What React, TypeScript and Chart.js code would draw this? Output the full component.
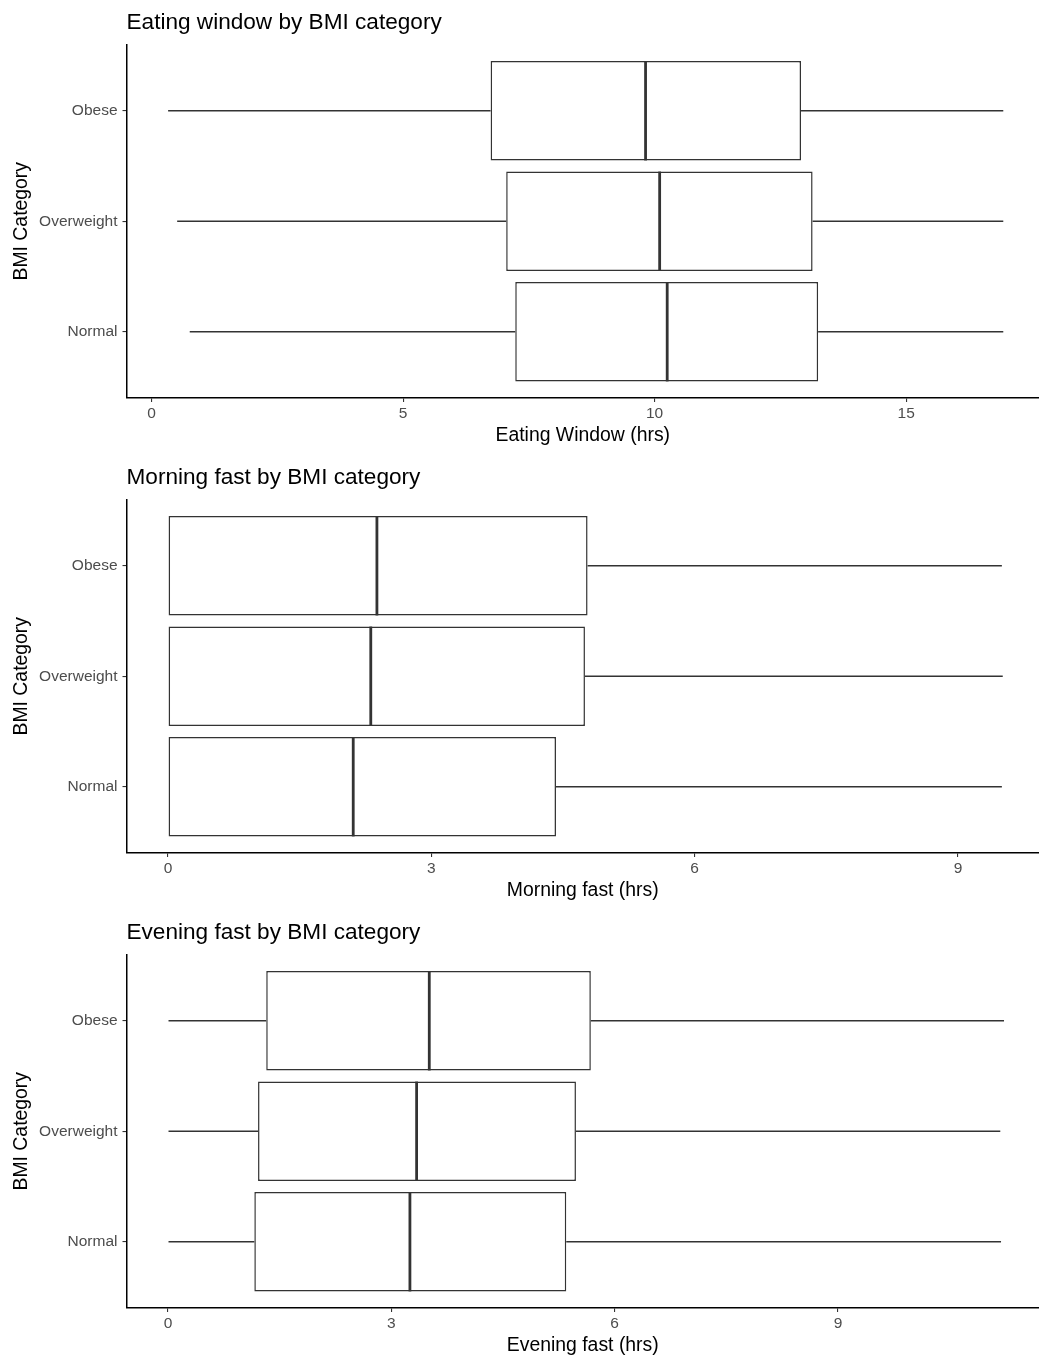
import React, { useEffect, useRef } from "react";
import { Chart, registerables } from "chart.js";

Chart.register(...registerables);

// ---------- data ----------
const categories = ["Obese", "Overweight", "Normal"];

// Eating window (hrs)
const eatLow = [0.33, 0.51, 0.76];
const eatQ1 = [6.74, 7.05, 7.23];
const eatMedian = [9.82, 10.1, 10.25];
const eatQ3 = [12.91, 13.14, 13.25];
const eatHigh = [16.93, 16.93, 16.93];
const eatTicks = [0, 5, 10, 15];

// Morning fast (hrs)
const mornLow = [0, 0, 0];
const mornQ1 = [0, 0, 0];
const mornMedian = [2.38, 2.31, 2.11];
const mornQ3 = [4.78, 4.75, 4.42];
const mornHigh = [9.5, 9.51, 9.5];
const mornTicks = [0, 3, 6, 9];

// Evening fast (hrs)
const eveLow = [0, 0, 0];
const eveQ1 = [1.32, 1.21, 1.16];
const eveMedian = [3.51, 3.34, 3.25];
const eveQ3 = [5.68, 5.48, 5.35];
const eveHigh = [11.23, 11.18, 11.19];
const eveTicks = [0, 3, 6, 9];

const titles = [
  "Eating window by BMI category",
  "Morning fast by BMI category",
  "Evening fast by BMI category",
];
const xTitles = ["Eating Window (hrs)", "Morning fast (hrs)", "Evening fast (hrs)"];
const yTitle = "BMI Category";

// ---------- panel configuration ----------
const FONT = '"Liberation Sans", Arial, Helvetica, sans-serif';
const W = 1039;
const H = 453;
const panelTops = [0, 455, 910];

type PanelCfg = {
  title: string;
  xTitle: string;
  low: number[];
  q1: number[];
  median: number[];
  q3: number[];
  high: number[];
  ticks: number[];
  xMin: number;
  xMax: number;
};

const panels: PanelCfg[] = [
  { title: titles[0], xTitle: xTitles[0], low: eatLow, q1: eatQ1, median: eatMedian, q3: eatQ3, high: eatHigh, ticks: eatTicks, xMin: -0.497, xMax: 17.64 },
  { title: titles[1], xTitle: xTitles[1], low: mornLow, q1: mornQ1, median: mornMedian, q3: mornQ3, high: mornHigh, ticks: mornTicks, xMin: -0.473, xMax: 9.923 },
  { title: titles[2], xTitle: xTitles[2], low: eveLow, q1: eveQ1, median: eveMedian, q3: eveQ3, high: eveHigh, ticks: eveTicks, xMin: -0.557, xMax: 11.7 },
];

function BoxPanel({ cfg, top }: { cfg: PanelCfg; top: number }) {
  const ref = useRef<HTMLCanvasElement>(null);

  useEffect(() => {
    const canvas = ref.current;
    if (!canvas) return;
    const idx = categories.map((_, i) => i);
    const boxData = idx.map((i) => ({ x: [cfg.q1[i], cfg.q3[i]], y: i }));
    const lowData = idx.map((i) => ({ x: [cfg.low[i], cfg.q1[i]], y: i }));
    const highData = idx.map((i) => ({ x: [cfg.q3[i], cfg.high[i]], y: i }));

    const medianPlugin = {
      id: "medianLines",
      afterDatasetsDraw(chart: any) {
        const meta = chart.getDatasetMeta(0);
        const xs = chart.scales.x;
        const ctx = chart.ctx;
        ctx.save();
        ctx.strokeStyle = "#333333";
        ctx.lineWidth = 2.8;
        meta.data.forEach((el: any, i: number) => {
          const { y, height } = el.getProps(["y", "height"], true);
          const px = xs.getPixelForValue(cfg.median[i]);
          ctx.beginPath();
          ctx.moveTo(px, y - height / 2);
          ctx.lineTo(px, y + height / 2);
          ctx.stroke();
        });
        ctx.restore();
      },
    };

    const titlePlugin = {
      id: "panelTitle",
      afterDraw(chart: any) {
        const ctx = chart.ctx;
        ctx.save();
        ctx.font = `22.6px ${FONT}`;
        ctx.fillStyle = "#000000";
        ctx.textAlign = "left";
        ctx.textBaseline = "alphabetic";
        ctx.fillText(cfg.title, chart.chartArea.left, 28.8);
        ctx.restore();
      },
    };

    const chart = new Chart(canvas, {
      type: "bar",
      data: {
        datasets: [
          {
            data: boxData as any,
            backgroundColor: "#ffffff",
            borderColor: "#333333",
            borderWidth: 1.5,
            borderSkipped: false,
            barPercentage: 0.9,
            categoryPercentage: 1,
            grouped: false,
          } as any,
          {
            data: lowData as any,
            backgroundColor: "#333333",
            borderWidth: 0,
            maxBarThickness: 1.4,
            grouped: false,
          } as any,
          {
            data: highData as any,
            backgroundColor: "#333333",
            borderWidth: 0,
            maxBarThickness: 1.4,
            grouped: false,
          } as any,
        ],
      },
      options: {
        indexAxis: "y",
        responsive: false,
        animation: false,
        events: [],
        layout: { padding: { top: 44.5, left: 0, right: 0, bottom: 0 } },
        plugins: {
          legend: { display: false },
          tooltip: { enabled: false },
          title: { display: false },
        },
        scales: {
          x: {
            type: "linear",
            min: cfg.xMin,
            max: cfg.xMax,
            offset: false,
            afterBuildTicks: (ax: any) => {
              ax.ticks = cfg.ticks.map((v) => ({ value: v }));
            },
            afterFit: (ax: any) => {
              ax.height = H - 398;
            },
            grid: {
              display: true,
              offset: false,
              drawOnChartArea: false,
              drawTicks: true,
              tickLength: 4,
              color: "#333333",
              lineWidth: 1.1,
            },
            border: { display: true, color: "#000000", width: 1.5 },
            ticks: {
              color: "#4d4d4d",
              font: { size: 15.5, family: FONT },
              padding: 2,
              maxRotation: 0,
              autoSkip: false,
              callback: (v: any) => String(v),
            },
            title: {
              display: true,
              text: cfg.xTitle,
              color: "#000000",
              font: { size: 19.4, family: FONT },
              padding: { top: 0, bottom: 5.4 },
            },
          },
          y: {
            type: "linear",
            reverse: true,
            min: -0.6,
            max: 2.6,
            offset: false,
            afterBuildTicks: (ax: any) => {
              ax.ticks = categories.map((_, i) => ({ value: i }));
            },
            afterFit: (ax: any) => {
              ax.width = 126.5;
            },
            grid: {
              display: true,
              offset: false,
              drawOnChartArea: false,
              drawTicks: true,
              tickLength: 4,
              color: "#333333",
              lineWidth: 1.1,
            },
            border: { display: true, color: "#000000", width: 1.5 },
            ticks: {
              color: "#4d4d4d",
              font: { size: 15.5, family: FONT },
              padding: 5,
              autoSkip: false,
              callback: (v: any) => categories[Math.round(Number(v))] ?? "",
            },
            title: {
              display: true,
              text: yTitle,
              color: "#000000",
              font: { size: 19.4, family: FONT },
              padding: { top: 10.4, bottom: 0 },
            },
          },
        },
      } as any,
      plugins: [medianPlugin, titlePlugin],
    });

    return () => chart.destroy();
  }, [cfg]);

  return (
    <div style={{ position: "absolute", left: 0, top, width: W, height: H }}>
      <canvas ref={ref} width={W} height={H} style={{ width: W, height: H, display: "block" }} />
    </div>
  );
}

export default function App() {
  return (
    <div
      style={{
        position: "absolute",
        left: 0,
        top: 0,
        width: W,
        height: 1359,
        overflow: "hidden",
        background: "#ffffff",
      }}
    >
      {panels.map((p, k) => (
        <BoxPanel key={k} cfg={p} top={panelTops[k]} />
      ))}
    </div>
  );
}
